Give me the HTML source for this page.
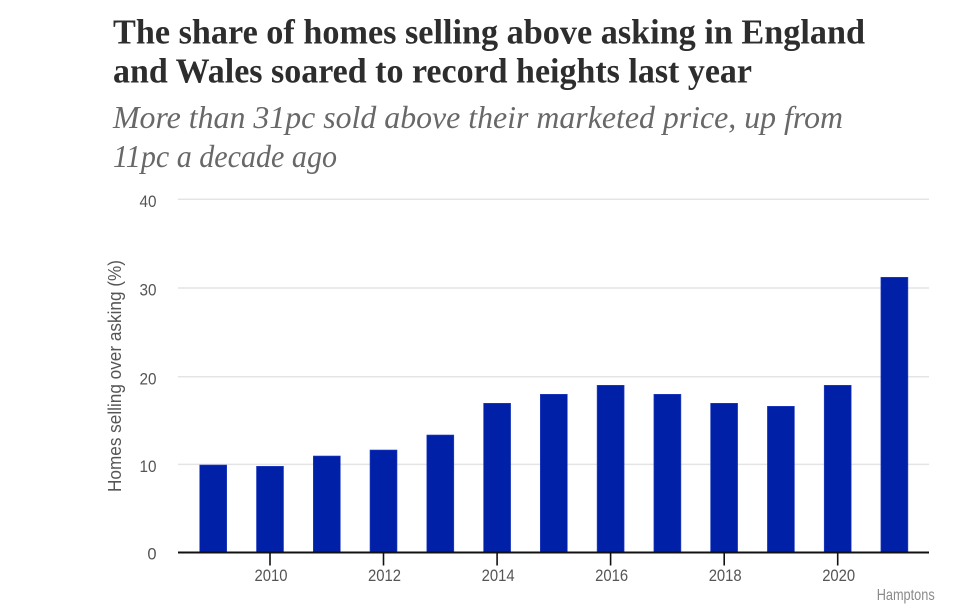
<!DOCTYPE html>
<html>
<head>
<meta charset="utf-8">
<style>
html,body{margin:0;padding:0;background:#fff;}
svg{display:block;}
</style>
</head>
<body>
<svg width="967" height="609" viewBox="0 0 967 609" xmlns="http://www.w3.org/2000/svg">
  <rect width="967" height="609" fill="#ffffff"/>
  <!-- Title -->
  <g font-family="'Liberation Serif', serif" font-weight="bold" fill="#2d2d2d" font-size="35">
    <text x="113" y="43.5" textLength="752" lengthAdjust="spacingAndGlyphs">The share of homes selling above asking in England</text>
    <text x="113" y="82.5" textLength="639" lengthAdjust="spacingAndGlyphs">and Wales soared to record heights last year</text>
  </g>
  <!-- Subtitle -->
  <g font-family="'Liberation Serif', serif" font-style="italic" fill="#686868" font-size="32">
    <text x="113" y="128" textLength="730" lengthAdjust="spacingAndGlyphs">More than 31pc sold above their marketed price, up from</text>
    <text x="113" y="167" textLength="224" lengthAdjust="spacingAndGlyphs">11pc a decade ago</text>
  </g>
  <!-- Gridlines -->
  <g stroke="#e4e4e4" stroke-width="1.5">
    <line x1="178" y1="199.3" x2="929" y2="199.3"/>
    <line x1="178" y1="288" x2="929" y2="288"/>
    <line x1="178" y1="376.7" x2="929" y2="376.7"/>
    <line x1="178" y1="464.4" x2="929" y2="464.4"/>
  </g>
  <!-- Y tick labels -->
  <g font-family="'Liberation Sans', sans-serif" font-size="16.5" fill="#555" text-anchor="end">
    <text x="156.5" y="206.9" textLength="17" lengthAdjust="spacingAndGlyphs">40</text>
    <text x="156.5" y="295.6" textLength="17" lengthAdjust="spacingAndGlyphs">30</text>
    <text x="156.5" y="384.3" textLength="17" lengthAdjust="spacingAndGlyphs">20</text>
    <text x="156.5" y="472.0" textLength="17" lengthAdjust="spacingAndGlyphs">10</text>
    <text x="156.5" y="559.7">0</text>
  </g>
  <!-- Y axis title -->
  <text transform="translate(121,492) rotate(-90)" font-family="'Liberation Sans', sans-serif" font-size="18" fill="#555" textLength="232" lengthAdjust="spacingAndGlyphs">Homes selling over asking (%)</text>
  <!-- Bars -->
  <g fill="#0020a8" stroke="#2843c4" stroke-width="0.6">
    <rect x="199.7" y="465" width="27" height="87.3"/>
    <rect x="256.5" y="466.3" width="27" height="86"/>
    <rect x="313.3" y="456" width="27" height="96.3"/>
    <rect x="370.0" y="450" width="27" height="102.3"/>
    <rect x="426.8" y="435" width="27" height="117.3"/>
    <rect x="483.6" y="403.3" width="27" height="149"/>
    <rect x="540.3" y="394.3" width="27" height="158"/>
    <rect x="597.1" y="385.3" width="27" height="167"/>
    <rect x="653.9" y="394.3" width="27" height="158"/>
    <rect x="710.6" y="403.3" width="27" height="149"/>
    <rect x="767.4" y="406.3" width="27" height="146"/>
    <rect x="824.2" y="385.3" width="27" height="167"/>
    <rect x="880.9" y="277.3" width="27" height="275"/>
  </g>
  <!-- X axis -->
  <line x1="178" y1="552.5" x2="929" y2="552.5" stroke="#111" stroke-width="2"/>
  <g stroke="#111" stroke-width="1.6">
    <line x1="270" y1="552" x2="270" y2="565.5"/>
    <line x1="383.5" y1="552" x2="383.5" y2="565.5"/>
    <line x1="497.1" y1="552" x2="497.1" y2="565.5"/>
    <line x1="610.6" y1="552" x2="610.6" y2="565.5"/>
    <line x1="724.2" y1="552" x2="724.2" y2="565.5"/>
    <line x1="837.7" y1="552" x2="837.7" y2="565.5"/>
  </g>
  <g font-family="'Liberation Sans', sans-serif" font-size="16.5" fill="#555" text-anchor="middle">
    <text x="271" y="581" textLength="33" lengthAdjust="spacingAndGlyphs">2010</text>
    <text x="384.5" y="581" textLength="33" lengthAdjust="spacingAndGlyphs">2012</text>
    <text x="498.1" y="581" textLength="33" lengthAdjust="spacingAndGlyphs">2014</text>
    <text x="611.6" y="581" textLength="33" lengthAdjust="spacingAndGlyphs">2016</text>
    <text x="725.2" y="581" textLength="33" lengthAdjust="spacingAndGlyphs">2018</text>
    <text x="838.7" y="581" textLength="33" lengthAdjust="spacingAndGlyphs">2020</text>
  </g>
  <!-- Source -->
  <text x="876.7" y="600" font-family="'Liberation Sans', sans-serif" font-size="16" fill="#8a8a8a" textLength="58" lengthAdjust="spacingAndGlyphs">Hamptons</text>
</svg>
</body>
</html>
